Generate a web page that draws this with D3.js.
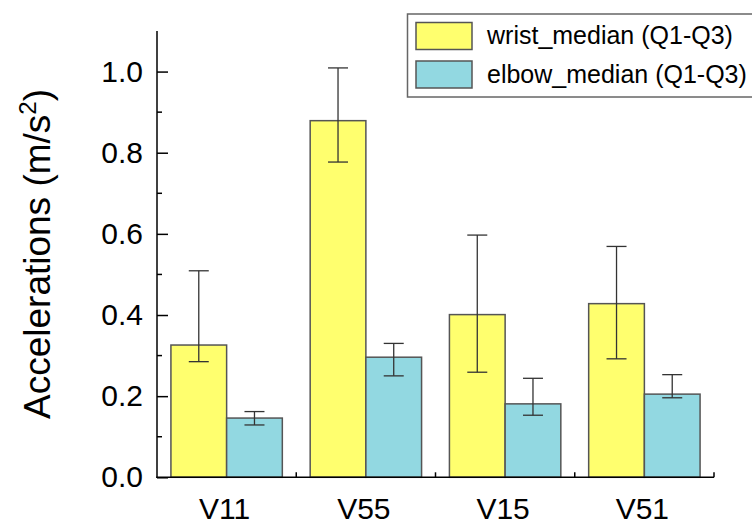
<!DOCTYPE html>
<html>
<head>
<meta charset="utf-8">
<script src="https://cdn.jsdelivr.net/npm/d3@7"></script>
<style>
  body { margin: 0; background: #fff; }
  svg { display: block; font-family: "Liberation Sans", Arial, sans-serif; }
</style>
</head>
<body>
<svg width="752" height="526"></svg>
<script>
// chart data
const categories = ["V11", "V55", "V15", "V51"];
const seriesNames = ["wrist_median (Q1-Q3)", "elbow_median (Q1-Q3)"];
const wristMedian = [0.326, 0.879, 0.401, 0.428];
const wristQ1 = [0.285, 0.777, 0.259, 0.292];
const wristQ3 = [0.509, 1.009, 0.597, 0.569];
const elbowMedian = [0.146, 0.296, 0.181, 0.205];
const elbowQ1 = [0.129, 0.250, 0.153, 0.196];
const elbowQ3 = [0.162, 0.330, 0.244, 0.253];
const yTicks = [0, 0.2, 0.4, 0.6, 0.8, 1.0];
const yMinorTicks = [0.1, 0.3, 0.5, 0.7, 0.9];

const colors = ["#ffff6e", "#92d8e1"];

const svg = d3.select("svg");
const plotLeft = 157, plotRight = 714, plotTop = 31, plotBottom = 477.3;

const x = d3.scaleBand().domain(categories).range([plotLeft, plotRight]).padding(0);
const x1 = d3.scaleBand().domain([0, 1])
    .range([x.bandwidth() * 0.1, x.bandwidth() * 0.9]).padding(0);
const y = d3.scaleLinear().domain([0, 1.1]).range([plotBottom, plotTop]);

// build rows for each series
const rows = [];
categories.forEach((c, i) => {
    rows.push({ cat: c, s: 0, med: wristMedian[i], q1: wristQ1[i], q3: wristQ3[i] });
    rows.push({ cat: c, s: 1, med: elbowMedian[i], q1: elbowQ1[i], q3: elbowQ3[i] });
});

// bars
svg.append("g").selectAll("rect")
    .data(rows)
    .enter().append("rect")
    .attr("x", d => x(d.cat) + x1(d.s))
    .attr("y", d => y(d.med))
    .attr("width", x1.bandwidth())
    .attr("height", d => y(0) - y(d.med))
    .attr("fill", d => colors[d.s])
    .attr("stroke", "#555")
    .attr("stroke-width", 1.5);

// error bars
const err = svg.append("g").attr("stroke", "#333").attr("stroke-width", 1.3);
rows.forEach(d => {
    const cx = x(d.cat) + x1(d.s) + x1.bandwidth() / 2;
    err.append("line").attr("x1", cx).attr("x2", cx).attr("y1", y(d.q1)).attr("y2", y(d.q3));
    err.append("line").attr("x1", cx - 10).attr("x2", cx + 10).attr("y1", y(d.q1)).attr("y2", y(d.q1));
    err.append("line").attr("x1", cx - 10).attr("x2", cx + 10).attr("y1", y(d.q3)).attr("y2", y(d.q3));
});

// y axis
const yAxis = svg.append("g")
    .attr("transform", `translate(${plotLeft},0)`)
    .call(d3.axisLeft(y).tickValues(yTicks).tickFormat(d3.format(".1f")).tickSizeInner(-11).tickSizeOuter(0).tickPadding(14));
yAxis.select(".domain").remove();
yAxis.selectAll(".tick line").attr("stroke", "#000").attr("stroke-width", 1.5);
yAxis.selectAll(".tick text")
    .attr("x", -14)
    .attr("font-size", 30)
    .attr("font-family", "Liberation Sans, Arial, sans-serif")
    .attr("fill", "#000");

svg.append("g").selectAll("line")
    .data(yMinorTicks)
    .enter().append("line")
    .attr("x1", plotLeft).attr("x2", plotLeft + 5)
    .attr("y1", d => y(d)).attr("y2", d => y(d))
    .attr("stroke", "#000").attr("stroke-width", 1.5);

svg.append("line")
    .attr("x1", plotLeft).attr("x2", plotLeft)
    .attr("y1", plotTop).attr("y2", plotBottom + 0.75)
    .attr("stroke", "#000").attr("stroke-width", 1.5);

// x axis
svg.append("line")
    .attr("x1", plotLeft - 0.75).attr("x2", plotRight)
    .attr("y1", plotBottom).attr("y2", plotBottom)
    .attr("stroke", "#000").attr("stroke-width", 1.5);

svg.append("g").selectAll("line")
    .data(categories.slice(1).concat(["end"]))
    .enter().append("line")
    .attr("x1", d => d === "end" ? plotRight : x(d))
    .attr("x2", d => d === "end" ? plotRight : x(d))
    .attr("y1", plotBottom).attr("y2", plotBottom - 5)
    .attr("stroke", "#000").attr("stroke-width", 1.5);

svg.append("g").selectAll("text")
    .data(categories)
    .enter().append("text")
    .attr("x", d => x(d) + x.bandwidth() / 2 - 2)
    .attr("y", 519)
    .attr("text-anchor", "middle")
    .attr("font-size", 30)
    .text(d => d);

// y title
const title = svg.append("text")
    .attr("transform", "translate(50,254) rotate(-90)")
    .attr("text-anchor", "middle")
    .attr("font-size", 37);
title.append("tspan").text("Accelerations (m/s");
title.append("tspan").attr("font-size", 24).attr("dy", -14).text("2");
title.append("tspan").attr("dy", 14).text(")");

// legend
const legend = svg.append("g");
legend.append("rect")
    .attr("x", 407.5).attr("y", 14)
    .attr("width", 360).attr("height", 83)
    .attr("fill", "#fff")
    .attr("stroke", "#666").attr("stroke-width", 1.5);

seriesNames.forEach((name, i) => {
    const yy = 22.5 + i * 38.5;
    legend.append("rect")
        .attr("x", 416).attr("y", yy)
        .attr("width", 56).attr("height", 27)
        .attr("fill", colors[i])
        .attr("stroke", "#555").attr("stroke-width", 1.5);
    legend.append("text")
        .attr("x", 487).attr("y", yy + 21.5)
        .attr("font-size", 25)
        .text(name);
});
</script>
</body>
</html>
